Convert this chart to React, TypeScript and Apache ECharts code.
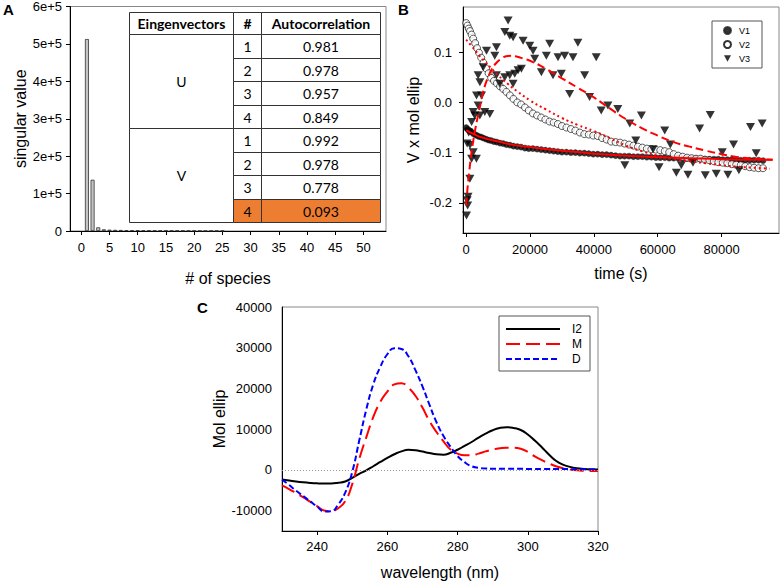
import React, { useEffect, useRef } from 'react';
import * as echarts from 'echarts';

// ---------- Panel A data ----------
const speciesIdx = [1, 2, 3, 4, 5, 6, 7, 8, 9, 10, 11, 12, 13, 14, 15, 16, 17, 18, 19, 20, 21, 22, 23, 24, 25];
const singularValues = [513000, 137000, 9800, 4500, 3600, 3100, 2700, 2400, 2200, 2000, 1900, 1800, 1700, 1600, 1500, 1400, 1300, 1250, 1200, 1100, 1050, 1000, 950, 900, 850];
const speciesTicks = [0, 5, 10, 15, 20, 25, 30, 35, 40, 45, 50];

const tableHeaders = ['Eingenvectors', '#', 'Autocorrelation'];
const eigenGroups = ['U', 'V'];
const eigenNums = ['1', '2', '3', '4'];
const autocorrU = ['0.981', '0.978', '0.957', '0.849'];
const autocorrV = ['0.992', '0.978', '0.778', '0.093'];

// ---------- Panel B data ----------
const timeTicks = [0, 20000, 40000, 60000, 80000];
const vTicks = [-0.2, -0.1, 0.0, 0.1];
const tV = [0, 400, 800, 1200, 1700, 2200, 2800, 3400, 4000, 4700, 5400, 6200, 7000, 7800, 8700, 9600, 10600, 11600, 12600, 13700, 14800, 16000, 17200, 18400, 19600, 20900, 22200, 23500, 24800, 26100, 27400, 28700, 30000, 31400, 32800, 34200, 35600, 37000, 38400, 39800, 41200, 42600, 44000, 45400, 46800, 48200, 49600, 51000, 52400, 53800, 55200, 56600, 58000, 59400, 60800, 62200, 63600, 65000, 66400, 67800, 69200, 70600, 72000, 73400, 74800, 76200, 77600, 79000, 80400, 81800, 83200, 84600, 86000, 87400, 88800, 90200, 91600, 93000];
const v1Values = [-0.050, -0.053, -0.055, -0.057, -0.059, -0.062, -0.064, -0.066, -0.068, -0.069, -0.071, -0.073, -0.075, -0.076, -0.078, -0.079, -0.081, -0.082, -0.084, -0.085, -0.087, -0.088, -0.089, -0.091, -0.092, -0.092, -0.093, -0.094, -0.095, -0.096, -0.097, -0.098, -0.099, -0.099, -0.100, -0.100, -0.101, -0.101, -0.102, -0.103, -0.103, -0.104, -0.104, -0.105, -0.106, -0.107, -0.107, -0.107, -0.108, -0.108, -0.108, -0.109, -0.109, -0.110, -0.110, -0.110, -0.111, -0.111, -0.111, -0.112, -0.112, -0.112, -0.112, -0.113, -0.113, -0.113, -0.113, -0.113, -0.114, -0.114, -0.114, -0.114, -0.115, -0.115, -0.115, -0.115, -0.115, -0.116];
const v2Values = [0.158, 0.153, 0.147, 0.142, 0.135, 0.127, 0.118, 0.108, 0.099, 0.089, 0.079, 0.068, 0.058, 0.049, 0.043, 0.038, 0.032, 0.027, 0.021, 0.014, 0.007, 0.000, -0.004, -0.010, -0.016, -0.022, -0.026, -0.030, -0.034, -0.038, -0.040, -0.043, -0.047, -0.050, -0.053, -0.056, -0.060, -0.063, -0.064, -0.066, -0.067, -0.071, -0.074, -0.078, -0.079, -0.080, -0.082, -0.084, -0.086, -0.088, -0.090, -0.092, -0.093, -0.094, -0.095, -0.097, -0.099, -0.103, -0.106, -0.108, -0.110, -0.111, -0.112, -0.112, -0.114, -0.115, -0.117, -0.119, -0.120, -0.121, -0.123, -0.124, -0.125, -0.127, -0.129, -0.130, -0.131, -0.131];
const v3Time = [100, 300, 450, 600, 1150, 1700, 1200, 300, 2200, 3200, 800, 1700, 2700, 3750, 4800, 3230, 2200, 4270, 5840, 7400, 3750, 4300, 5320, 6360, 8960, 9480, 12090, 13650, 14690, 13130, 12090, 13650, 15210, 16260, 17300, 14690, 10520, 9480, 17820, 19900, 20950, 21470, 23550, 25110, 26150, 27200, 28760, 29800, 30840, 33450, 32400, 34990, 37100, 38650, 40740, 42300, 44400, 47500, 51250, 54900, 49690, 53130, 58540, 62190, 60420, 63960, 65840, 67400, 69480, 71050, 73130, 74900, 76470, 78340, 80220, 81990, 83760, 85430, 89080, 90850, 92720];
const v3Values = [-0.225, -0.195, -0.205, -0.188, -0.152, -0.112, -0.085, -0.082, -0.099, -0.112, -0.060, -0.039, -0.026, -0.006, 0.014, 0.014, -0.019, -0.026, -0.019, -0.023, 0.054, 0.040, 0.070, 0.103, 0.093, 0.110, 0.140, 0.133, 0.130, 0.163, 0.050, 0.054, 0.057, 0.064, 0.067, 0.037, 0.037, 0.054, 0.123, 0.113, 0.103, 0.087, 0.060, 0.093, 0.117, 0.054, 0.090, 0.057, 0.093, 0.090, 0.017, 0.119, 0.054, 0.011, 0.090, -0.016, -0.006, -0.013, -0.042, -0.026, -0.125, -0.076, -0.093, -0.056, -0.129, -0.084, -0.140, -0.125, -0.144, -0.120, -0.052, -0.145, -0.025, -0.142, -0.099, -0.144, -0.084, -0.135, -0.049, -0.101, -0.042];

const fit1Time = [0, 2000, 5000, 10000, 15000, 20000, 30000, 40000, 50000, 60000, 70000, 80000, 90000, 96000];
const fit1Values = [-0.055, -0.062, -0.070, -0.078, -0.085, -0.089, -0.096, -0.102, -0.106, -0.109, -0.111, -0.113, -0.114, -0.114];
const fit2Time = [0, 2000, 4000, 6000, 8000, 10000, 13000, 16000, 20000, 25000, 30000, 35000, 40000, 45000, 50000, 55000, 60000, 65000, 70000, 75000, 80000, 85000, 90000, 95000];
const fit2Values = [0.125, 0.110, 0.094, 0.080, 0.067, 0.054, 0.037, 0.022, 0.004, -0.014, -0.031, -0.045, -0.057, -0.071, -0.086, -0.097, -0.106, -0.112, -0.117, -0.121, -0.125, -0.128, -0.130, -0.132];
const fit3Time = [0, 500, 1000, 1500, 2000, 3000, 4000, 5000, 6000, 7000, 8000, 9500, 11000, 12500, 14000, 16000, 18000, 20000, 25000, 30000, 35000, 40000, 45000, 50000, 55000, 60000, 65000, 70000, 75000, 80000, 85000, 90000, 96000];
const fit3Values = [-0.205, -0.165, -0.135, -0.108, -0.085, -0.048, -0.018, 0.012, 0.036, 0.052, 0.066, 0.079, 0.087, 0.092, 0.093, 0.091, 0.087, 0.083, 0.067, 0.048, 0.029, 0.010, -0.012, -0.033, -0.051, -0.066, -0.079, -0.088, -0.096, -0.103, -0.109, -0.112, -0.114];

// ---------- Panel C data ----------
const wlTicks = [240, 260, 280, 300, 320];
const ellipTicks = [-10000, 0, 10000, 20000, 30000, 40000];
const wavelengths = [230, 232, 234, 236, 238, 240, 242, 244, 246, 248, 250, 252, 254, 256, 258, 260, 262, 264, 266, 268, 270, 272, 274, 276, 278, 280, 282, 284, 286, 288, 290, 292, 294, 296, 298, 300, 302, 304, 306, 308, 310, 312, 314, 316, 318, 320];
const i2Values = [-2360, -2600, -2850, -3050, -3200, -3300, -3340, -3320, -3150, -2850, -1950, -950, -100, 900, 1950, 2950, 3850, 4550, 4950, 4850, 4500, 4150, 3850, 3750, 4200, 4950, 5900, 6850, 7950, 8900, 9750, 10300, 10500, 10300, 9800, 8700, 7200, 5550, 3800, 2250, 1300, 750, 400, 230, 130, 100];
const mValues = [-3820, -4700, -5700, -6700, -7800, -8900, -9950, -10150, -9400, -7700, -3500, 2700, 8000, 13000, 16700, 19200, 21000, 21300, 20200, 18200, 15300, 12000, 9300, 7000, 5000, 4000, 3600, 3600, 4000, 4550, 5000, 5300, 5450, 5450, 5200, 4400, 3300, 2400, 1600, 900, 400, 100, -100, -200, -250, -250];
const dValues = [-2360, -3700, -5100, -6400, -7700, -9000, -10200, -10150, -8500, -5600, -500, 7200, 14800, 21000, 25300, 28400, 29900, 29700, 27900, 24500, 20500, 16000, 11700, 8300, 5700, 3400, 1900, 900, 500, 350, 300, 290, 280, 270, 260, 250, 240, 230, 220, 210, 200, 190, 180, 170, 160, 150];

const FONT = "'Liberation Sans', Arial, sans-serif";
const TFONT = "Lato, 'Open Sans', sans-serif";

function zip(xs: number[], ys: number[]) {
  return xs.map((x, i) => [x, ys[i]]);
}

const plain = (v: number) => String(v);

function baseAxis(extra: any) {
  return {
    type: 'value',
    axisLine: { show: true, onZero: false, lineStyle: { color: '#000', width: 1 } },
    axisTick: { show: true, inside: false, length: 4, lineStyle: { color: '#000' } },
    axisLabel: { color: '#000', fontFamily: FONT, fontSize: 13 },
    splitLine: { show: false },
    nameLocation: 'middle',
    nameTextStyle: { color: '#000', fontFamily: FONT, fontSize: 16 },
    ...extra,
  };
}

function buildTable() {
  const xs = [129.5, 233.5, 261.5, 380.5];
  const headTop = 12.5;
  const rowTop = 34.5;
  const rowH = 23.5;
  const rowY = (i: number) => Math.round(34 + i * rowH) + 0.5;
  const els: any[] = [];
  const stroke = { stroke: '#333', lineWidth: 1 };
  for (let c = 0; c < 3; c++) {
    els.push({ type: 'rect', shape: { x: xs[c], y: headTop, width: xs[c + 1] - xs[c], height: rowTop - headTop }, style: { fill: '#fff', ...stroke } });
    els.push({ type: 'text', x: (xs[c] + xs[c + 1]) / 2, y: (headTop + rowTop) / 2, style: { text: tableHeaders[c], fill: '#000', font: `bold 14px ${TFONT}`, align: 'center', verticalAlign: 'middle' } });
  }
  const groupVals = [autocorrU, autocorrV];
  eigenGroups.forEach((g, gi) => {
    const y0 = rowY(gi * 4);
    const y1 = rowY(gi * 4 + 4);
    els.push({ type: 'rect', shape: { x: xs[0], y: y0, width: xs[1] - xs[0], height: y1 - y0 }, style: { fill: '#fff', ...stroke } });
    els.push({ type: 'text', x: (xs[0] + xs[1]) / 2, y: (y0 + y1) / 2, style: { text: g, fill: '#000', font: `14px ${TFONT}`, align: 'center', verticalAlign: 'middle' } });
    eigenNums.forEach((n, ni) => {
      const r = gi * 4 + ni;
      const ya = rowY(r);
      const yb = rowY(r + 1);
      const hl = gi === 1 && ni === 3;
      const fill = hl ? '#ED7D31' : '#fff';
      els.push({ type: 'rect', shape: { x: xs[1], y: ya, width: xs[2] - xs[1], height: yb - ya }, style: { fill, ...stroke } });
      els.push({ type: 'rect', shape: { x: xs[2], y: ya, width: xs[3] - xs[2], height: yb - ya }, style: { fill, ...stroke } });
      els.push({ type: 'text', x: (xs[1] + xs[2]) / 2, y: (ya + yb) / 2, style: { text: n, fill: '#000', font: `14px ${TFONT}`, align: 'center', verticalAlign: 'middle' } });
      els.push({ type: 'text', x: (xs[2] + xs[3]) / 2, y: (ya + yb) / 2, style: { text: groupVals[gi][ni], fill: '#000', font: `14px ${TFONT}`, align: 'center', verticalAlign: 'middle' } });
    });
  });
  return els;
}

export default function App() {
  const ref = useRef<HTMLDivElement>(null);
  useEffect(() => {
    const chart = echarts.init(ref.current!, null, { renderer: 'svg' });
    const option: any = {
      animation: false,
      backgroundColor: '#fff',
      grid: [
        { left: 70, top: 5, width: 316, height: 226, show: true, borderColor: '#888', borderWidth: 1, containLabel: false },
        { left: 463, top: 7, width: 316, height: 226, show: true, borderColor: '#888', borderWidth: 1, containLabel: false },
        { left: 282, top: 307, width: 316, height: 225, show: true, borderColor: '#888', borderWidth: 1, containLabel: false },
      ],
      xAxis: [
        baseAxis({
          gridIndex: 0, min: -2, max: 54, name: '# of species', nameGap: 39,
          axisTick: { show: true, length: 4, lineStyle: { color: '#000' }, customValues: speciesTicks },
          axisLabel: { color: '#000', fontFamily: FONT, fontSize: 13, margin: 10, customValues: speciesTicks, formatter: plain },
        }),
        baseAxis({
          gridIndex: 1, min: -1000, max: 98000, name: 'time (s)', nameGap: 32,
          axisTick: { show: true, length: 4, lineStyle: { color: '#000' }, customValues: timeTicks },
          axisLabel: { color: '#000', fontFamily: FONT, fontSize: 13, margin: 10, customValues: timeTicks, formatter: plain },
        }),
        baseAxis({
          gridIndex: 2, min: 230, max: 320, name: 'wavelength (nm)', nameGap: 33,
          axisTick: { show: true, length: 4, lineStyle: { color: '#000' }, customValues: wlTicks },
          axisLabel: { color: '#000', fontFamily: FONT, fontSize: 13, margin: 9, customValues: wlTicks, formatter: plain },
        }),
      ],
      yAxis: [
        baseAxis({
          gridIndex: 0, min: 0, max: 600000, interval: 100000, name: 'singular value', nameGap: 40,
          axisLabel: { color: '#000', fontFamily: FONT, fontSize: 13, margin: 8, formatter: (v: number) => (v === 0 ? '0' : `${v / 100000}e+5`) },
        }),
        baseAxis({
          gridIndex: 1, min: -0.26, max: 0.19, name: 'V x mol ellip', nameGap: 42,
          axisTick: { show: true, length: 4, lineStyle: { color: '#000' }, customValues: vTicks },
          axisLabel: { color: '#000', fontFamily: FONT, fontSize: 13, margin: 11, customValues: vTicks, formatter: (v: number) => v.toFixed(1) },
        }),
        baseAxis({
          gridIndex: 2, min: -15000, max: 40000, name: 'Mol ellip', nameGap: 55,
          axisTick: { show: false, customValues: ellipTicks },
          axisLabel: { color: '#000', fontFamily: FONT, fontSize: 13, margin: 10, customValues: ellipTicks, formatter: plain },
        }),
      ],
      legend: [
        {
          data: ['V1', 'V2', 'V3'], orient: 'vertical', left: 712, top: 21,
          padding: [5, 12, 5, 11], itemWidth: 7, itemHeight: 7, itemGap: 5,
          borderColor: '#555', borderWidth: 1, backgroundColor: '#fff',
          textStyle: { fontFamily: FONT, fontSize: 9, color: '#000', padding: [0, 0, 0, 3] },
        },
        {
          data: ['I2', 'M', 'D'], orient: 'vertical', left: 499, top: 316,
          padding: [7, 8, 6, 6], itemWidth: 54, itemHeight: 12, itemGap: 3,
          borderColor: '#555', borderWidth: 1, backgroundColor: '#fff',
          itemStyle: { color: 'transparent', borderColor: 'transparent', borderWidth: 0, opacity: 0 },
          textStyle: { fontFamily: FONT, fontSize: 12, color: '#000', padding: [0, 0, 0, 7] },
        },
      ],
      series: [
        {
          type: 'bar', xAxisIndex: 0, yAxisIndex: 0, barWidth: 4,
          data: zip(speciesIdx, singularValues),
          itemStyle: { color: '#c4c4c4', borderColor: '#333', borderWidth: 0.8 },
        },
        {
          name: 'V1', type: 'scatter', xAxisIndex: 1, yAxisIndex: 1, symbol: 'circle', symbolSize: 6,
          data: zip(tV, v1Values), itemStyle: { color: '#000', borderColor: '#222', borderWidth: 0.5 },
        },
        {
          name: 'V2', type: 'scatter', xAxisIndex: 1, yAxisIndex: 1, symbol: 'circle', symbolSize: 7,
          data: zip(tV, v2Values), itemStyle: { color: '#fff', borderColor: '#000', borderWidth: 0.8 },
        },
        {
          name: 'V3', type: 'scatter', xAxisIndex: 1, yAxisIndex: 1, symbol: 'path://M0,0L10,0L5,9Z', symbolSize: [9, 8],
          data: zip(v3Time, v3Values), itemStyle: { color: '#000' },
        },
        {
          name: 'fit1', type: 'line', xAxisIndex: 1, yAxisIndex: 1, smooth: true, showSymbol: false, symbol: 'none',
          data: zip(fit1Time, fit1Values), lineStyle: { color: '#ff0000', width: 2, type: 'solid' },
        },
        {
          name: 'fit2', type: 'line', xAxisIndex: 1, yAxisIndex: 1, smooth: true, showSymbol: false, symbol: 'none',
          data: zip(fit2Time, fit2Values), lineStyle: { color: '#ff0000', width: 2, type: [2, 3] },
        },
        {
          name: 'fit3', type: 'line', xAxisIndex: 1, yAxisIndex: 1, smooth: true, showSymbol: false, symbol: 'none',
          data: zip(fit3Time, fit3Values), lineStyle: { color: '#ff0000', width: 2, type: [8, 4] },
        },
        {
          name: 'I2', type: 'line', xAxisIndex: 2, yAxisIndex: 2, smooth: true, showSymbol: false, symbol: 'none',
          data: zip(wavelengths, i2Values), lineStyle: { color: '#000', width: 2 }, itemStyle: { color: '#000' },
          markLine: {
            silent: true, symbol: 'none', label: { show: false },
            lineStyle: { color: '#999', type: [1, 2], width: 1 },
            data: [{ yAxis: 0 }],
          },
        },
        {
          name: 'M', type: 'line', xAxisIndex: 2, yAxisIndex: 2, smooth: true, showSymbol: false, symbol: 'none',
          data: zip(wavelengths, mValues), lineStyle: { color: '#ff0000', width: 2, type: [14, 6] }, itemStyle: { color: '#ff0000' },
        },
        {
          name: 'D', type: 'line', xAxisIndex: 2, yAxisIndex: 2, smooth: true, showSymbol: false, symbol: 'none',
          data: zip(wavelengths, dValues), lineStyle: { color: '#0000ff', width: 2, type: [6, 3] }, itemStyle: { color: '#0000ff' },
        },
      ],
      graphic: [
        { type: 'group', z: 100, children: buildTable() },
        { type: 'text', x: 3, y: 2, z: 100, style: { text: 'A', font: `bold 15px ${FONT}`, fill: '#000' } },
        { type: 'text', x: 398, y: 2, z: 100, style: { text: 'B', font: `bold 15px ${FONT}`, fill: '#000' } },
        { type: 'text', x: 197, y: 300, z: 100, style: { text: 'C', font: `bold 15px ${FONT}`, fill: '#000' } },
      ],
    };
    chart.setOption(option);
    return () => chart.dispose();
  }, []);
  return <div ref={ref} style={{ position: 'absolute', left: 0, top: 0, width: 780, height: 581, background: '#fff' }} />;
}
